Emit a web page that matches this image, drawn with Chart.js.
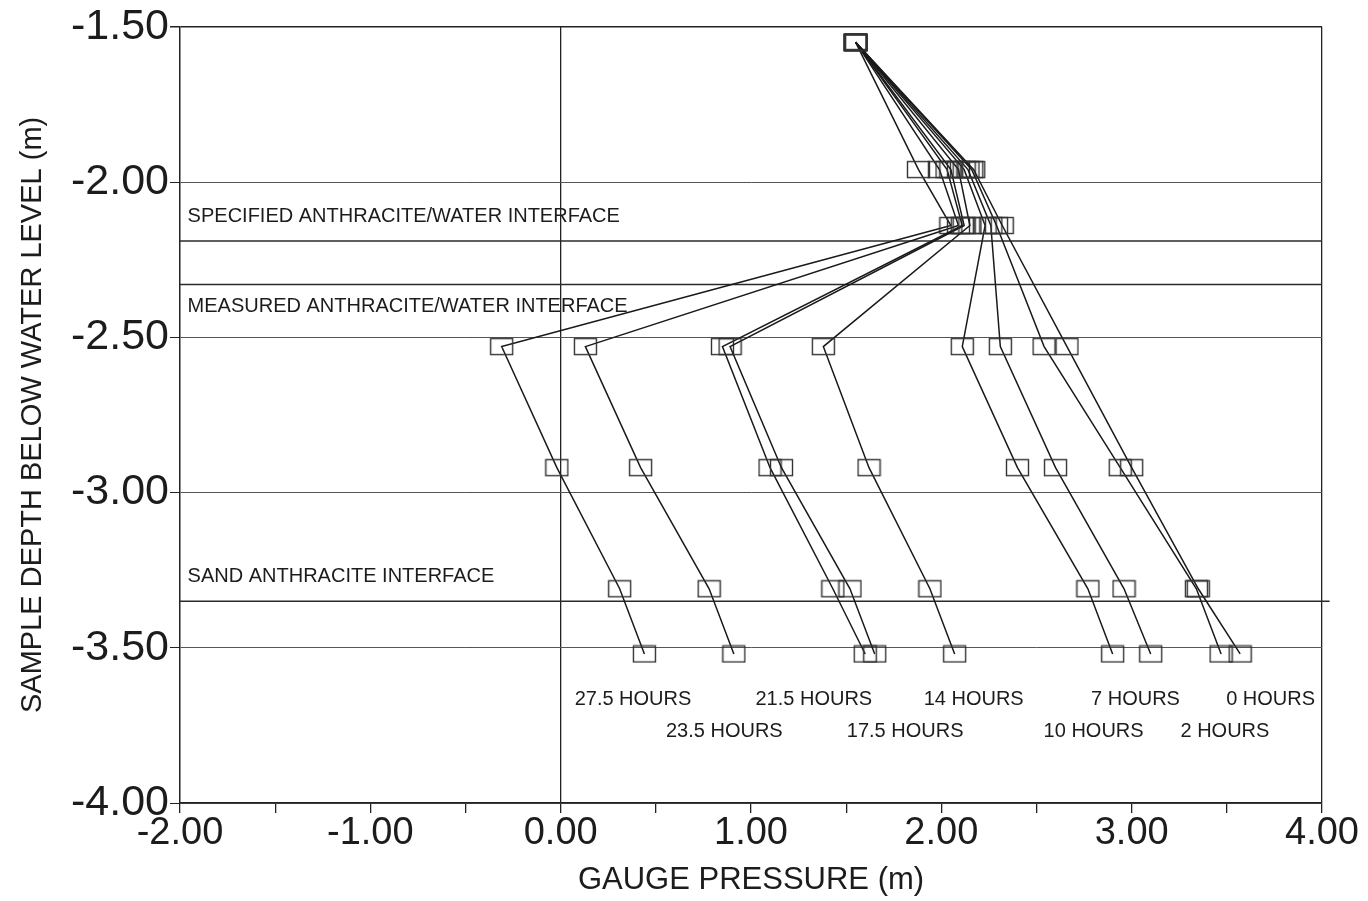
<!DOCTYPE html>
<html lang="en">
  <head>
    <meta charset="UTF-8" />
    <title>Gauge pressure vs sample depth</title>
    <script src="https://cdn.jsdelivr.net/npm/chart.js"></script>
    <style>
      body {
        margin: 0;
        background: #fff;
      }
      .wrap {
        position: relative;
        width: 1368px;
        height: 901px;
      }
    </style>
  </head>
  <body>
    <div class="wrap"><canvas id="chart"></canvas></div>

    <script>
      // sample depths (m below water level), same for every run
      const depths = [-1.55, -1.96, -2.14, -2.53, -2.92, -3.31, -3.52];

      const hourNames = ["0 HOURS", "2 HOURS", "7 HOURS", "10 HOURS", "14 HOURS",
        "17.5 HOURS", "21.5 HOURS", "23.5 HOURS", "27.5 HOURS"];

      // gauge pressure (m) at each depth
      const h0 = [1.55, 2.17, 2.32, 2.66, 3.0, 3.35, 3.57];
      const h2 = [1.55, 2.16, 2.29, 2.54, 2.94, 3.34, 3.47];
      const h7 = [1.55, 2.14, 2.26, 2.31, 2.6, 2.96, 3.1];
      const h10 = [1.55, 2.12, 2.23, 2.11, 2.4, 2.77, 2.9];
      const h14 = [1.55, 2.09, 2.15, 1.38, 1.62, 1.94, 2.07];
      const h17 = [1.55, 2.05, 2.12, 0.89, 1.16, 1.52, 1.65];
      const h21 = [1.55, 2.03, 2.11, 0.85, 1.1, 1.43, 1.6];
      const h23 = [1.55, 1.99, 2.09, 0.13, 0.42, 0.78, 0.91];
      const h27 = [1.55, 1.88, 2.05, -0.31, -0.02, 0.31, 0.44];
      const runs = [h0, h2, h7, h10, h14, h17, h21, h23, h27];

      // interface depths
      const specifiedInterface = -2.19;
      const measuredInterface = -2.33;
      const sandInterface = -3.35;

      const xTicks = [-2, -1, 0, 1, 2, 3, 4];

      // hollow rectangle marker
      const box = document.createElement("canvas");
      box.width = 25;
      box.height = 19;
      const bctx = box.getContext("2d");
      bctx.strokeStyle = "#333";
      bctx.lineWidth = 1.4;
      bctx.strokeRect(1.5, 1.5, 22, 16);

      const datasets = runs.map((r, i) => ({
        label: hourNames[i],
        data: depths.map((d, j) => ({ x: r[j], y: d })),
        showLine: true,
        borderColor: "#1a1a1a",
        borderWidth: 1.5,
        pointStyle: box,
        pointRadius: 10,
        fill: false,
      }));

      [specifiedInterface, measuredInterface, sandInterface].forEach((v, i) => {
        datasets.push({
          label: "interface",
          data: [{ x: -2, y: v }, { x: i === 2 ? 4.04 : 4, y: v }],
          showLine: true,
          borderColor: "#2a2a2a",
          borderWidth: 1.5,
          pointRadius: 0,
          clip: false,
        });
      });

      // text notes, in data units
      const notes = [
        { text: "SPECIFIED ANTHRACITE/WATER INTERFACE", x: -1.96, y: -2.11, align: "left" },
        { text: "MEASURED ANTHRACITE/WATER INTERFACE", x: -1.96, y: -2.4, align: "left" },
        { text: "SAND ANTHRACITE INTERFACE", x: -1.96, y: -3.27, align: "left" },
        { text: "27.5 HOURS", x: 0.38, y: -3.667 },
        { text: "21.5 HOURS", x: 1.33, y: -3.667 },
        { text: "14 HOURS", x: 2.17, y: -3.667 },
        { text: "7 HOURS", x: 3.02, y: -3.667 },
        { text: "0 HOURS", x: 3.73, y: -3.667 },
        { text: "23.5 HOURS", x: 0.86, y: -3.77 },
        { text: "17.5 HOURS", x: 1.81, y: -3.77 },
        { text: "10 HOURS", x: 2.8, y: -3.77 },
        { text: "2 HOURS", x: 3.49, y: -3.77 },
      ];

      const notesPlugin = {
        id: "notes",
        afterDatasetsDraw(chart) {
          const { ctx, scales } = chart;
          ctx.save();
          ctx.font = "20px 'Liberation Sans', Arial, sans-serif";
          ctx.fillStyle = "#1c1c1c";
          ctx.textBaseline = "middle";
          notes.forEach((n) => {
            ctx.textAlign = n.align || "center";
            ctx.fillText(n.text, scales.x.getPixelForValue(n.x), scales.y.getPixelForValue(n.y));
          });
          ctx.restore();
        },
      };

      new Chart(document.getElementById("chart"), {
        type: "scatter",
        data: { datasets },
        plugins: [notesPlugin],
        options: {
          responsive: true,
          maintainAspectRatio: false,
          animation: false,
          layout: { padding: { left: 0, right: 46, top: 22, bottom: 0 } },
          plugins: { legend: { display: false }, tooltip: { enabled: false } },
          scales: {
            x: {
              type: "linear",
              min: -2,
              max: 4,
              afterFit: (s) => { s.height = 98; },
              afterBuildTicks: (s) => {
                const t = [];
                for (let v = -2; v <= 4.001; v += 0.5) t.push({ value: Math.round(v * 10) / 10 });
                s.ticks = t;
              },
              ticks: {
                autoSkip: false,
                maxRotation: 0,
                minRotation: 0,
                padding: 2,
                color: "#1c1c1c",
                font: { family: "'Liberation Sans', Arial, sans-serif", size: 38, lineHeight: 1 },
                callback: (v) => (xTicks.includes(v) ? v.toFixed(2) : ""),
              },
              grid: {
                color: (c) => (c.tick && (c.tick.value === 0 || c.tick.value === 4) ? "#222" : "rgba(0,0,0,0)"),
                lineWidth: 1.3,
                tickColor: "#222",
                tickLength: 10,
              },
              border: { color: "#222", width: 1.5 },
              title: {
                display: true,
                text: "GAUGE PRESSURE (m)",
                color: "#1c1c1c",
                font: { family: "'Liberation Sans', Arial, sans-serif", size: 31 },
                padding: { top: 0, bottom: 2 },
              },
            },
            y: {
              type: "linear",
              min: -4,
              max: -1.5,
              afterFit: (s) => { s.width = 180; },
              ticks: {
                stepSize: 0.5,
                padding: 1,
                color: "#1c1c1c",
                font: { family: "'Liberation Sans', Arial, sans-serif", size: 43 },
                callback: (v) => v.toFixed(2),
              },
              grid: {
                color: (c) => (c.tick && c.tick.value === -1.5 ? "#222" : "#555"),
                lineWidth: (c) => (c.tick && c.tick.value === -1.5 ? 1.5 : 1),
                tickColor: "#222",
                tickLength: 10,
              },
              border: { color: "#222", width: 1.5 },
              title: {
                display: true,
                text: "SAMPLE DEPTH BELOW WATER LEVEL (m)",
                color: "#1c1c1c",
                font: { family: "'Liberation Sans', Arial, sans-serif", size: 29 },
                padding: { top: 16, bottom: 0 },
              },
            },
          },
        },
      });
    </script>
  </body>
</html>
